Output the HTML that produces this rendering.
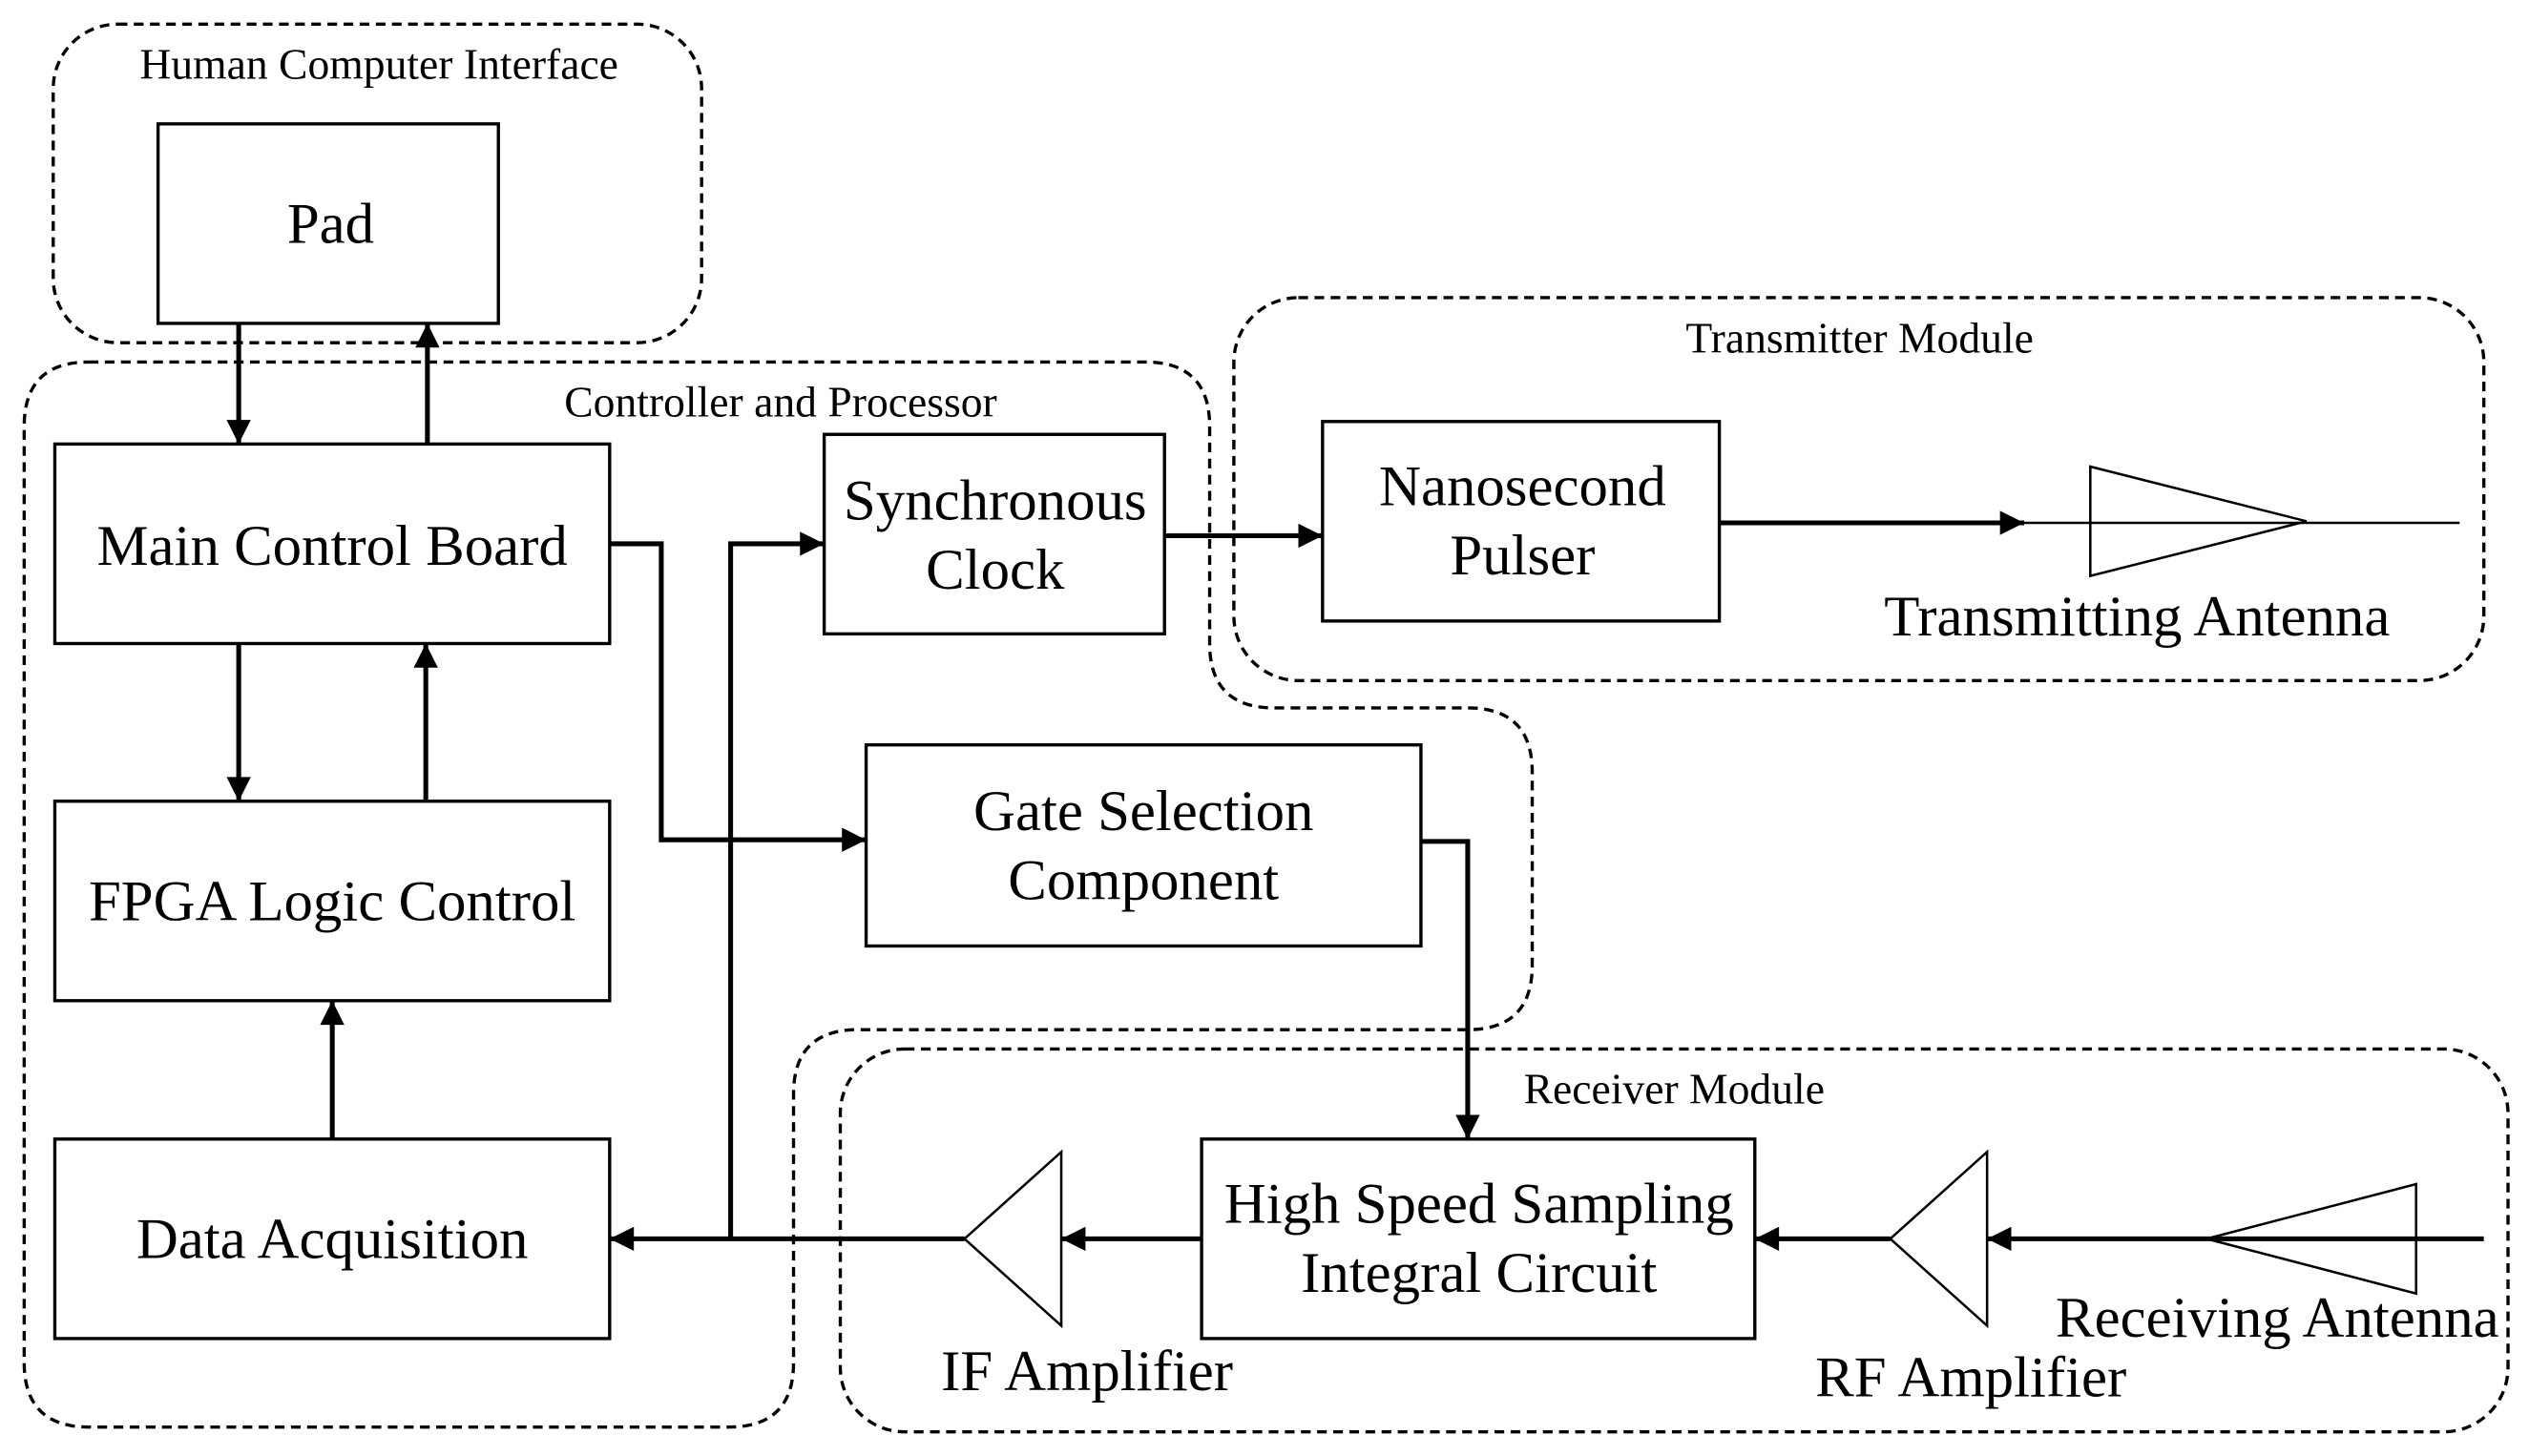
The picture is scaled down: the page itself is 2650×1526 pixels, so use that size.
<!DOCTYPE html>
<html><head><meta charset="utf-8"><style>html,body{margin:0;padding:0;background:#fff}svg{display:block}</style></head>
<body>
<svg width="2650" height="1526" viewBox="0 0 1568 905" preserveAspectRatio="none" xmlns="http://www.w3.org/2000/svg" font-family="Liberation Serif, serif">
<defs>
<marker id="a" viewBox="0 0 10 10" refX="10" refY="5" markerWidth="8" markerHeight="5" markerUnits="strokeWidth" orient="auto"><path d="M0,0 L10,5 L0,10 Z" fill="#000"/></marker>
</defs>
<g fill="none" stroke="#000" stroke-width="2" stroke-dasharray="6,4">
<rect x="33" y="15" width="402" height="198" rx="40"/>
<path d="M55,225 H710 Q750,225 750,265 V400 Q750,440 790,440 H910 Q950,440 950,480 V600 Q950,640 910,640 H532 Q492,640 492,680 V847 Q492,887 452,887 H55 Q15,887 15,847 V265 Q15,225 55,225 Z"/>
<rect x="765" y="185" width="775" height="238" rx="40"/>
<rect x="521" y="652" width="1034" height="238" rx="40"/>
</g>
<g fill="#fff" stroke="#000" stroke-width="2">
<rect x="98" y="77" width="211" height="124"/>
<rect x="34" y="276" width="344" height="124"/>
<rect x="34" y="498" width="344" height="124"/>
<rect x="34" y="708" width="344" height="124"/>
<rect x="511" y="270" width="211" height="124"/>
<rect x="537" y="463" width="344" height="125"/>
<rect x="820" y="262" width="246" height="124"/>
<rect x="745" y="708" width="343" height="124"/>
<polygon points="1296,290 1296,358 1430,324" stroke-width="1.5"/>
<polygon points="1172,770 1232,716 1232,824" stroke-width="1.5"/>
<polygon points="1368,770 1498,736 1498,804" stroke-width="1.5"/>
<polygon points="598,770 658,716 658,824" stroke-width="1.5"/>
</g>
<g fill="none" stroke="#000" stroke-width="3">
<line x1="148" y1="201" x2="148" y2="276" marker-end="url(#a)"/>
<line x1="265" y1="276" x2="265" y2="201" marker-end="url(#a)"/>
<line x1="148" y1="400" x2="148" y2="498" marker-end="url(#a)"/>
<line x1="264" y1="498" x2="264" y2="400" marker-end="url(#a)"/>
<line x1="206" y1="708" x2="206" y2="622" marker-end="url(#a)"/>
<line x1="745" y1="770" x2="658" y2="770" marker-end="url(#a)"/>
<line x1="598" y1="770" x2="378" y2="770" marker-end="url(#a)"/>
<polyline points="453,770 453,338 511,338" marker-end="url(#a)"/>
<polyline points="378,338 410,338 410,522 537,522" marker-end="url(#a)"/>
<line x1="722" y1="333" x2="820" y2="333" marker-end="url(#a)"/>
<polyline points="881,523 910,523 910,708" marker-end="url(#a)"/>
<line x1="1066" y1="325" x2="1255" y2="325" marker-end="url(#a)"/>
<line x1="1172" y1="770" x2="1088" y2="770" marker-end="url(#a)"/>
<line x1="1540" y1="770" x2="1232" y2="770" marker-end="url(#a)"/>
</g>
<line x1="1255" y1="325" x2="1525" y2="325" stroke="#000" stroke-width="1.5"/>
<g fill="#000" text-anchor="middle">
<text x="235" y="49" font-size="27">Human Computer Interface</text>
<text x="484" y="259" font-size="27">Controller and Processor</text>
<text x="1153" y="219" font-size="27">Transmitter Module</text>
<text x="1038" y="686" font-size="27">Receiver Module</text>
<g font-size="36">
<text x="205" y="151">Pad</text>
<text x="206" y="351">Main Control Board</text>
<text x="206" y="572">FPGA Logic Control</text>
<text x="206" y="782">Data Acquisition</text>
<text x="617" y="323">Synchronous</text>
<text x="617" y="366">Clock</text>
<text x="709" y="516">Gate Selection</text>
<text x="709" y="559">Component</text>
<text x="944" y="314">Nanosecond</text>
<text x="944" y="357">Pulser</text>
<text x="917" y="760">High Speed Sampling</text>
<text x="917" y="803">Integral Circuit</text>
<text x="1325" y="395">Transmitting Antenna</text>
<text x="1412" y="831">Receiving Antenna</text>
<text x="1222" y="868">RF Amplifier</text>
<text x="674" y="864">IF Amplifier</text>
</g>
</g>
</svg>
</body></html>
